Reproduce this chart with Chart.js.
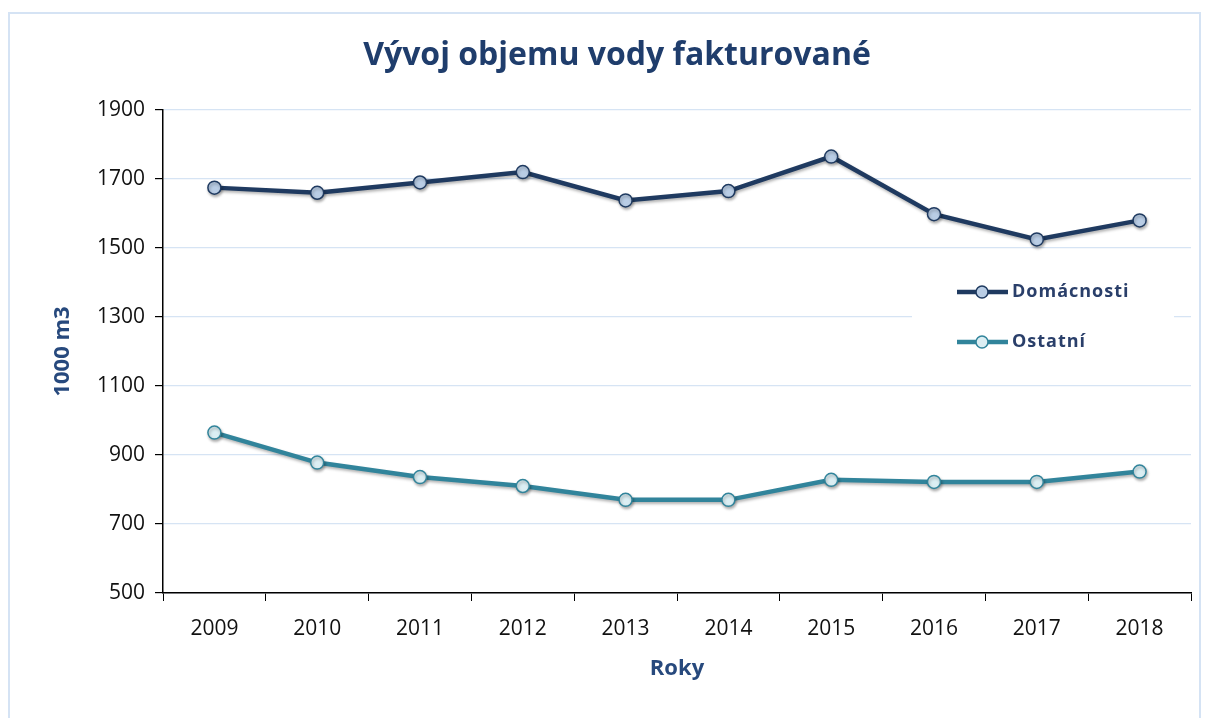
<!DOCTYPE html>
<html>
<head>
<meta charset="utf-8">
<script src="https://cdn.jsdelivr.net/npm/chart.js@4.4.1/dist/chart.umd.min.js"></script>
<style>
  html, body { margin: 0; padding: 0; background: #fff; }
  #wrap { width: 1206px; height: 718px; position: relative; }
</style>
</head>
<body>
<div id="wrap"><canvas id="chart" width="1206" height="718"></canvas></div>
<script>
const years = ["2009", "2010", "2011", "2012", "2013", "2014", "2015", "2016", "2017", "2018"];
const domacnosti = [1675, 1660, 1690, 1720, 1638, 1665, 1765, 1598, 1525, 1580];
const ostatni = [965, 878, 836, 810, 770, 770, 828, 822, 822, 852];

const FONT = "'Open Sans', 'Noto Sans', sans-serif";

// frame + title around the whole chart
const framePlugin = {
    id: "frame",
    beforeDraw: (chart) => {
        const ctx = chart.ctx;
        ctx.save();
        ctx.strokeStyle = "#d5e3f4";
        ctx.lineWidth = 2;
        ctx.strokeRect(9, 13, 1191, 720);
        ctx.fillStyle = "#1f3d6c";
        ctx.font = "bold 32px " + FONT;
        ctx.textAlign = "center";
        ctx.textBaseline = "middle";
        ctx.fillText("Vývoj objemu vody fakturované", 617, 56);
        ctx.restore();
    }
};

// soft shadow under the lines, like the original
const shadowPlugin = {
    id: "lineShadow",
    beforeDatasetDraw: (chart) => {
        const ctx = chart.ctx;
        ctx.save();
        ctx.shadowColor = "rgba(0,0,0,0.3)";
        ctx.shadowBlur = 3;
        ctx.shadowOffsetX = 1;
        ctx.shadowOffsetY = 2;
    },
    afterDatasetDraw: (chart) => {
        chart.ctx.restore();
    }
};

// legend sits inside the plot, on a white box
const legendPlugin = {
    id: "innerLegend",
    afterDatasetsDraw: (chart) => {
        const ctx = chart.ctx;
        ctx.save();
        ctx.fillStyle = "#fff";
        ctx.fillRect(912, 262, 262, 104);
        chart.data.datasets.forEach((ds, i) => {
            const y = 292 + i * 50;
            ctx.strokeStyle = ds.borderColor;
            ctx.lineWidth = 4.5;
            ctx.beginPath();
            ctx.moveTo(957, y);
            ctx.lineTo(1008, y);
            ctx.stroke();
            ctx.beginPath();
            ctx.arc(982, y, 6, 0, Math.PI * 2);
            ctx.fillStyle = ds.pointBackgroundColor;
            ctx.fill();
            ctx.lineWidth = 1.5;
            ctx.stroke();
            ctx.fillStyle = "#2a3f6a";
            ctx.font = "bold 18px " + FONT;
            ctx.letterSpacing = "1px";
            ctx.textAlign = "left";
            ctx.textBaseline = "middle";
            ctx.fillText(ds.label, 1012, y);
        });
        ctx.restore();
    }
};

new Chart(document.getElementById("chart"), {
    type: "line",
    data: {
        labels: years,
        datasets: [
            {
                label: "Domácnosti",
                data: domacnosti,
                borderColor: "#1f3a60",
                borderWidth: 4.5,
                pointBackgroundColor: "#b9cde5",
                pointBorderColor: "#1f3a60",
                pointBorderWidth: 1.5,
                pointRadius: 6.5,
                tension: 0
            },
            {
                label: "Ostatní",
                data: ostatni,
                borderColor: "#31849b",
                borderWidth: 4.5,
                pointBackgroundColor: "#dbeef3",
                pointBorderColor: "#31849b",
                pointBorderWidth: 1.5,
                pointRadius: 6.5,
                tension: 0
            }
        ]
    },
    options: {
        responsive: false,
        animation: false,
        layout: { padding: { left: 0, right: 15, top: 110, bottom: 0 } },
        plugins: {
            legend: { display: false },
            title: { display: false },
            tooltip: { enabled: false }
        },
        scales: {
            x: {
                offset: true,
                afterFit: (s) => { s.height = 125; },
                grid: {
                    offset: true,
                    drawOnChartArea: false,
                    tickLength: 8,
                    tickColor: "#000"
                },
                border: { color: "#000", width: 1.5 },
                ticks: {
                    color: "#111",
                    font: { family: FONT, size: 21 },
                    padding: 15,
                    maxRotation: 0
                },
                title: {
                    display: true,
                    text: "Roky",
                    color: "#27497d",
                    font: { family: FONT, size: 22, weight: "bold" },
                    padding: { top: 0, bottom: 36 }
                }
            },
            y: {
                min: 500,
                max: 1900,
                afterFit: (s) => { s.width = 163; },
                grid: {
                    color: "#d6e4f4",
                    lineWidth: 1.2,
                    tickLength: 8,
                    tickColor: "#000"
                },
                border: { color: "#000", width: 1.5 },
                ticks: {
                    stepSize: 200,
                    color: "#111",
                    font: { family: FONT, size: 21 },
                    padding: 10,
                    callback: (value) => String(value)
                },
                title: {
                    display: true,
                    text: "1000 m3",
                    color: "#27497d",
                    font: { family: FONT, size: 22, weight: "bold" },
                    padding: { top: 50, bottom: 0 }
                }
            }
        }
    },
    plugins: [framePlugin, shadowPlugin, legendPlugin]
});
</script>
</body>
</html>
